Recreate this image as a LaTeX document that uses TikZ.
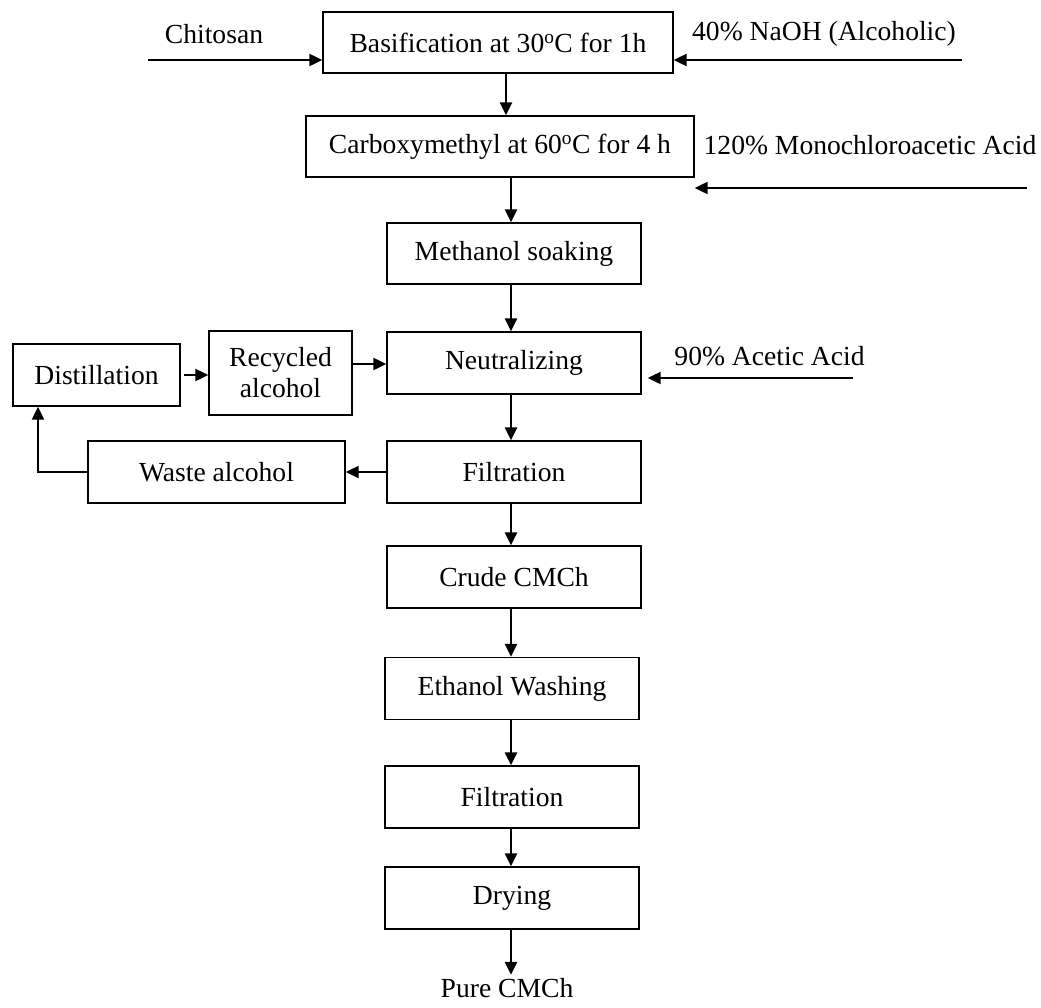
\documentclass[tikz,border=0pt]{standalone}
\usepackage{fontspec}
\setmainfont{Liberation Serif}
\usetikzlibrary{arrows.meta}

\begin{document}
\begin{tikzpicture}[
  x=1pt, y=-1pt,
  font=\fontsize{27.6}{31}\selectfont,
  >={Triangle[width=12pt,length=13pt]},
  stepbox/.style={draw, line width=1.3pt, inner sep=0pt, align=center,
    minimum width=254pt, minimum height=62pt},
  flow/.style={->, line width=2.8pt},
  feed/.style={->, line width=2pt},
]
\useasboundingbox (0,0) rectangle (1041,1007);

% --- Main process line ---
\node[stepbox, minimum width=350pt, minimum height=61pt] (basif) at (498,42.5) {Basification at 30\textsuperscript{o}C for 1h};
\node[stepbox, minimum width=388pt, minimum height=61pt] (carboxy) at (500,146.5) {Carboxymethyl at 60\textsuperscript{o}C for 4 h};
\node[stepbox, minimum height=61pt] (soak) at (514,253.5) {Methanol soaking};
\node[stepbox] (neutral) at (514,363) {Neutralizing};
\node[stepbox] (filt) at (514,472) {Filtration};
\node[stepbox] (crude) at (514,577) {Crude CMCh};
\node[stepbox] (wash) at (512,688.5) {Ethanol Washing};
\node[stepbox] (filtb) at (512,797) {Filtration};
\node[stepbox] (dry) at (512,898) {Drying};
\node (pure) at (507,988) {Pure CMCh};

\draw[flow] (basif.south -| 506,0) -- (carboxy.north -| 506,0);
\draw[flow] (carboxy.south -| 511,0) -- (soak.north -| 511,0);
\draw[flow] (soak.south -| 511,0) -- (neutral.north -| 511,0);
\draw[flow] (neutral.south -| 511,0) -- (filt.north -| 511,0);
\draw[flow] (filt.south -| 511,0) -- (crude.north -| 511,0);
\draw[flow] (crude.south -| 511,0) -- (wash.north -| 511,0);
\draw[flow] (wash.south -| 511,0) -- (filtb.north -| 511,0);
\draw[flow] (filtb.south -| 511,0) -- (dry.north -| 511,0);
\draw[flow] (dry.south -| 511,0) -- (pure.north -| 511,0);

% --- Feeds ---
\node (chitosan) at (214,34) {Chitosan};
\coordinate (chitosanin) at (148,60);
\draw[feed] (chitosanin) -- (chitosanin -| basif.west);

\node (naoh) at (824,34) {40\% NaOH (Alcoholic)};
\coordinate (naohin) at (962,60);
\draw[feed] (naohin) -- (naohin -| basif.east);

\node (mca) at (870,145) {120\% Monochloroacetic Acid};
\coordinate (mcain) at (1027,188);
\draw[feed] (mcain) -- (mcain -| carboxy.east);

\node (acetic) at (769.5,356) {90\% Acetic Acid};
\coordinate (aceticin) at (853,378);
\draw[feed] (aceticin) -- ([xshift=6pt]aceticin -| neutral.east);

% --- Alcohol recovery ---
\node[stepbox, minimum width=257pt] (waste) at (216.5,472) {Waste alcohol};
\node[stepbox, minimum width=167pt] (distil) at (96.5,375) {Distillation};
\node[stepbox, minimum width=143pt, minimum height=84pt] (recyc) at (280.5,373) {Recycled\\alcohol};

\draw[feed] (filt.west) -- (waste.east);
\draw[feed] (waste.west) -- (38,472) -- (distil.south -| 38,0);
\draw[feed] ([xshift=3pt]distil.east) -- (distil.east -| recyc.west);
\draw[feed] (recyc.east |- 364,364) -- (neutral.west |- 364,364);

\end{tikzpicture}
\end{document}
